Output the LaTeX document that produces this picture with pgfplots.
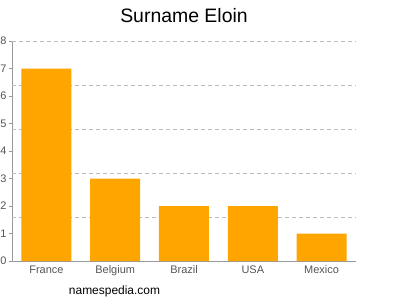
\documentclass[border=0pt]{standalone}
\usepackage{pgfplots}
\pgfplotsset{compat=1.18}
\usepackage{fontspec}
\setmainfont{Liberation Sans}
\definecolor{barc}{HTML}{FFA500}
\definecolor{tickc}{HTML}{555555}
\definecolor{gridc}{HTML}{BBBBBB}
\definecolor{axc}{HTML}{999999}
\begin{document}
\begin{tikzpicture}
\path[use as bounding box] (0bp,0bp) rectangle (400bp,300bp);
\begin{axis}[
  at={(12bp,39bp)}, anchor=south west,
  scale only axis, width=344bp, height=220bp,
  xmin=-0.5, xmax=4.5, ymin=0, ymax=8,
  xtick={0,...,4}, xticklabels={France,Belgium,Brazil,USA,Mexico},
  ytick={0,...,8},
  extra y ticks={1.6,3.2,4.8,6.4,8},
  extra y tick labels={},
  extra y tick style={grid=major, major grid style={gridc, dash pattern=on 4bp off 3bp}, major tick length=0pt},
  axis lines*=left,
  axis line style={draw=axc, -},
  xtick style={draw=none},
  ytick style={draw=axc},
  ytick align=outside, major tick length=3bp,
  tick label style={font=\fontsize{11}{13}\selectfont, text=tickc},
  /pgf/number format/assume math mode=true,
  yticklabel style={xshift=1bp},
  xticklabel style={yshift=-1bp},
  clip=false,
]
\addplot[ybar, bar width=50bp, fill=barc, draw=none] coordinates {(0,7) (1,3) (2,2) (3,2) (4,1)};
\end{axis}
\node at (184bp,284bp) {\fontsize{19.5}{23}\selectfont Surname Eloin};
\node at (114.5bp,9bp) {\fontsize{12}{14}\selectfont namespedia.com};
\end{tikzpicture}
\end{document}
